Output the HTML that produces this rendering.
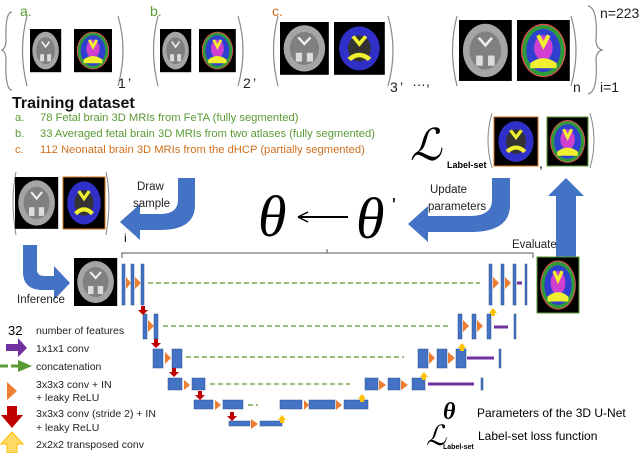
<!DOCTYPE html>
<html><head><meta charset="utf-8"><style>
body{margin:0;background:#fff;width:640px;height:453px;overflow:hidden}
svg{display:block;font-family:"Liberation Sans",sans-serif}
</style></head><body>
<svg width="640" height="453" viewBox="0 0 640 453">
<defs>
<g id="gray"><rect width="40" height="48" fill="#000"/><ellipse cx="20" cy="24" rx="17" ry="21" fill="#a5a5a5"/><ellipse cx="20" cy="24" rx="12" ry="15" fill="#808080"/><path d="M15 14 L20 20 L25 14" stroke="#eee" stroke-width="2" fill="none"/><rect x="13" y="28" width="5" height="8" fill="#ddd"/><rect x="22" y="28" width="5" height="8" fill="#ddd"/></g>
<g id="seg"><rect width="40" height="48" fill="#000"/><ellipse cx="20" cy="24" rx="17" ry="21" fill="#e05050"/><ellipse cx="20" cy="24" rx="16" ry="20" fill="#2e9a3a"/><ellipse cx="20" cy="24" rx="13" ry="17" fill="#2f3fd0"/><ellipse cx="20" cy="22" rx="7" ry="10" fill="#d040d0"/><path d="M10 34 Q20 26 30 34 L30 38 L10 38Z" fill="#f0f030"/><path d="M16 12 L20 20 L24 12" stroke="#f0f030" stroke-width="3" fill="none"/></g>
<g id="blue"><rect width="40" height="48" fill="#000"/><ellipse cx="20" cy="24" rx="16" ry="20" fill="#3030c8"/><ellipse cx="20" cy="24" rx="9" ry="12" fill="#333"/><path d="M15 13 L20 20 L25 13" stroke="#f0f030" stroke-width="3" fill="none"/><path d="M12 34 Q20 26 28 34" stroke="#f0f030" stroke-width="4" fill="none"/></g>
</defs>
<path d="M12 12 Q5 12 6 40 Q6 48 2 50 Q6 52 6 60 Q5 90 12 90" stroke="#888" fill="none" stroke-width="1.2"/>
<g font-size="14" fill="#5a9a35"><text x="20" y="16">a.</text><text x="150" y="16">b.</text></g>
<text x="272" y="16" font-size="14" fill="#d0701e">c.</text>
<g stroke="#888" fill="none" stroke-width="1.2">
<path d="M27 16 Q18 50 27 86"/><path d="M118 16 Q128 50 118 86"/>
<path d="M158 16 Q149 50 158 86"/><path d="M238 16 Q248 50 238 86"/>
<path d="M278 16 Q269 50 278 86"/><path d="M388 16 Q398 50 388 86"/>
<path d="M457 16 Q448 50 457 86"/><path d="M571 16 Q581 50 571 86"/>
<path d="M588 6 Q598 8 596 40 Q596 48 602 50 Q596 52 596 60 Q598 92 588 94"/>
</g>
<g transform="translate(30,29) scale(0.78,0.9)"><use href="#gray"/></g>
<g transform="translate(74,29) scale(0.95,0.9)"><use href="#seg"/></g>
<g transform="translate(160,29) scale(0.78,0.9)"><use href="#gray"/></g>
<g transform="translate(199,29) scale(0.92,0.9)"><use href="#seg"/></g>
<g transform="translate(280,22) scale(1.22,1.1)"><use href="#gray"/></g>
<g transform="translate(334,22) scale(1.27,1.1)"><use href="#blue"/></g>
<g transform="translate(459,20) scale(1.32,1.27)"><use href="#gray"/></g>
<g transform="translate(517,20) scale(1.32,1.27)"><use href="#seg"/></g>
<g font-size="14" fill="#222"><text x="118" y="88">1</text><text x="128" y="88">’</text><text x="243" y="88">2</text><text x="253" y="88">’</text><text x="390" y="92">3</text><text x="400" y="92">’</text><text x="412" y="86">…,</text><text x="573" y="92">n</text><text x="600" y="18">n=223</text><text x="600" y="92">i=1</text></g>
<text x="12" y="108" font-size="16" font-weight="bold" fill="#111">Training dataset</text>
<g font-size="11.2"><text x="15" y="121" fill="#5a9a35">a.</text><text x="40" y="121" fill="#5a9a35">78 Fetal brain 3D MRIs from FeTA (fully segmented)</text>
<text x="15" y="137" fill="#5a9a35">b.</text><text x="40" y="137" fill="#5a9a35">33 Averaged fetal brain 3D MRIs from two atlases (fully segmented)</text>
<text x="15" y="153" fill="#d0701e">c.</text><text x="40" y="153" fill="#d0701e">112 Neonatal brain 3D MRIs from the dHCP (partially segmented)</text></g>
<text x="410" y="160" font-size="44" font-family="Liberation Serif,serif" font-style="italic">ℒ</text>
<text x="447" y="168" font-size="9" font-weight="bold">Label-set</text>
<path d="M492 113 Q484 140 492 168 M590 113 Q598 140 590 168" stroke="#888" fill="none"/>
<g transform="translate(494,117) scale(1.1,1.02)"><use href="#blue"/></g><rect x="494" y="117" width="44" height="49" fill="none" stroke="#d0701e"/>
<g transform="translate(547,117) scale(1.03,1.02)"><use href="#seg"/></g><rect x="547" y="117" width="41" height="49" fill="none" stroke="#5a9a35"/>
<text x="539" y="168" font-size="14">,</text>
<path d="M16 172 Q10 200 16 235 M106 172 Q112 200 106 235" stroke="#888" fill="none"/>
<g transform="translate(15,177) scale(1.08,1.08)"><use href="#gray"/></g>
<g transform="translate(63,177) scale(1.05,1.08)"><use href="#blue"/></g><rect x="63" y="177" width="42" height="52" fill="none" stroke="#d0701e"/>
<text x="124" y="242" font-size="12">i</text>
<g fill="#4472c4">
<path d="M178 178 H195 V205 Q195 230 160 230 H140 V240 L120 222 L140 204 V214 H160 Q178 214 178 200Z"/>
<path d="M492 178 H510 V205 Q510 232 470 232 H428 V242 L408 224 L428 206 V216 H470 Q492 216 492 200Z"/>
<path d="M556 265 V196 H548 L566 178 L584 196 H576 V265Z"/>
<path d="M23 245 H37 V270 Q37 276 45 276 H54 V266 L70 283 L54 300 V290 H43 Q23 290 23 272Z"/>
</g>
<g font-size="11.5" fill="#222"><text x="137" y="190">Draw</text><text x="133" y="207">sample</text>
<text x="430" y="193">Update</text><text x="428" y="210">parameters</text><text x="512" y="248">Evaluate</text><text x="17" y="303">Inference</text></g>
<g font-family="Liberation Serif,serif" font-style="italic" font-size="58"><text x="258" y="236">θ</text><text x="356" y="238">θ</text></g>
<text x="392" y="212" font-size="20">'</text>
<path d="M298 217 H348" stroke="#000" stroke-width="2"/><path d="M298 217 L308 212 M298 217 L308 222" stroke="#000" stroke-width="1.5"/>
<path d="M122 258 V253 H533 V258 M327 253 V249" stroke="#555" fill="none"/>
<g transform="translate(74,258) scale(1.08,1.0)"><use href="#gray"/></g>
<g transform="translate(537,257) scale(1.05,1.17)"><use href="#seg"/></g><rect x="537" y="257" width="42" height="56" fill="none" stroke="#5a9a35"/>
<g fill="#4472c4" stroke="#2f528f" stroke-width="0.5">
<rect x="122" y="264" width="3" height="41"/><rect x="131" y="264" width="3" height="41"/><rect x="141" y="264" width="3" height="41"/>
<rect x="489" y="264" width="3" height="41"/><rect x="501" y="264" width="3" height="41"/><rect x="513" y="264" width="3" height="41"/><rect x="525" y="264" width="2" height="41"/>
<rect x="143" y="314" width="4" height="25"/><rect x="154" y="314" width="4" height="25"/>
<rect x="458" y="314" width="4" height="25"/><rect x="472" y="314" width="4" height="25"/><rect x="487" y="314" width="4" height="25"/><rect x="514" y="314" width="2" height="25"/>
<rect x="153" y="349" width="10" height="19"/><rect x="172" y="349" width="10" height="19"/>
<rect x="418" y="349" width="10" height="19"/><rect x="437" y="349" width="10" height="19"/><rect x="456" y="349" width="10" height="19"/><rect x="499" y="349" width="2" height="19"/>
<rect x="168" y="378" width="14" height="12"/><rect x="192" y="378" width="13" height="12"/>
<rect x="365" y="378" width="13" height="12"/><rect x="388" y="378" width="12" height="12"/><rect x="412" y="378" width="13" height="12"/><rect x="481" y="378" width="2" height="12"/>
<rect x="194" y="400" width="19" height="9"/><rect x="223" y="400" width="20" height="9"/><rect x="280" y="400" width="22" height="9"/><rect x="309" y="400" width="26" height="9"/><rect x="344" y="400" width="24" height="9"/>
<rect x="229" y="421" width="21" height="5"/><rect x="260" y="421" width="22" height="5"/>
</g>
<g fill="#ed7d31">
<path d="M126 277 L131 283 L126 289Z"/><path d="M135 277 L141 283 L135 289Z"/><path d="M493 277 L499 283 L493 289Z"/><path d="M505 277 L511 283 L505 289Z"/>
<path d="M148 320 L154 326 L148 332Z"/><path d="M463 320 L469 326 L463 332Z"/><path d="M477 320 L483 326 L477 332Z"/>
<path d="M165 352 L171 358 L165 364Z"/><path d="M429 352 L435 358 L429 364Z"/><path d="M448 352 L455 358 L448 364Z"/>
<path d="M184 380 L190 385 L184 390Z"/><path d="M379 380 L386 385 L379 390Z"/><path d="M401 380 L408 385 L401 390Z"/>
<path d="M215 400 L221 405 L215 410Z"/><path d="M304 400 L309 405 L304 410Z"/><path d="M336 400 L342 405 L336 410Z"/>
<path d="M251 419 L258 424 L251 429Z"/>
</g>
<g stroke="#5a9a35" stroke-width="1.3" stroke-dasharray="5,3" fill="none">
<path d="M148 283 H480"/><path d="M163 326 H450"/><path d="M186 357 H404"/><path d="M210 384 H350"/><path d="M248 405 H258"/>
</g>
<g stroke="#7030a0" stroke-width="3"><path d="M517 283 H522"/><path d="M494 327 H508"/><path d="M467 358 H494"/><path d="M428 384 H474"/></g>
<g fill="#c00000"><path d="M141 306 h4 v4 h3 l-5 5 l-5 -5 h3z"/><path d="M154 339 h4 v4 h3 l-5 5 l-5 -5 h3z"/><path d="M172 368 h4 v4 h3 l-5 5 l-5 -5 h3z"/><path d="M198 391 h4 v4 h3 l-5 5 l-5 -5 h3z"/><path d="M230 412 h4 v4 h3 l-5 5 l-5 -5 h3z"/></g>
<g fill="#ffc000"><path d="M489 313 l4 -5 l4 5 h-2 v3 h-4 v-3z"/><path d="M458 348 l4 -5 l4 5 h-2 v3 h-4 v-3z"/><path d="M420 377 l4 -5 l4 5 h-2 v3 h-4 v-3z"/><path d="M358 399 l4 -5 l4 5 h-2 v3 h-4 v-3z"/><path d="M278 420 l4 -5 l4 5 h-2 v3 h-4 v-3z"/></g>
<text x="8" y="335" font-size="13">32</text>
<g font-size="10.5" fill="#222"><text x="36" y="334">number of features</text><text x="36" y="352">1x1x1 conv</text><text x="36" y="370">concatenation</text><text x="36" y="388">3x3x3 conv + IN</text><text x="36" y="401">+ leaky ReLU</text><text x="36" y="417">3x3x3 conv (stride 2) + IN</text><text x="36" y="431">+ leaky ReLU</text><text x="36" y="448">2x2x2 transposed conv</text></g>
<path d="M6 344 H18 V338 L27 348 L18 357 V351 H6Z" fill="#7030a0"/>
<path d="M0 366 H18" stroke="#5a9a35" stroke-width="3" stroke-dasharray="8,3"/><path d="M18 360 L32 366 L18 372Z" fill="#5a9a35"/>
<path d="M7 382 L17 391 L7 400Z" fill="#ed7d31"/>
<path d="M7 406 H17 V415 H23 L12 428 L1 415 H7Z" fill="#c00000"/>
<path d="M12 432 L23 444 H17 V453 H7 V444 H1Z" fill="#ffd966" stroke="#ffc000"/>
<text x="443" y="419" font-size="24" font-family="Liberation Serif,serif" font-style="italic" font-weight="bold">θ</text>
<text x="477" y="417" font-size="12">Parameters of the 3D U-Net</text>
<text x="426" y="445" font-size="28" font-family="Liberation Serif,serif" font-style="italic">ℒ</text>
<text x="443" y="449" font-size="7" font-weight="bold">Label-set</text>
<text x="478" y="440" font-size="12">Label-set loss function</text>
</svg>
</body></html>
